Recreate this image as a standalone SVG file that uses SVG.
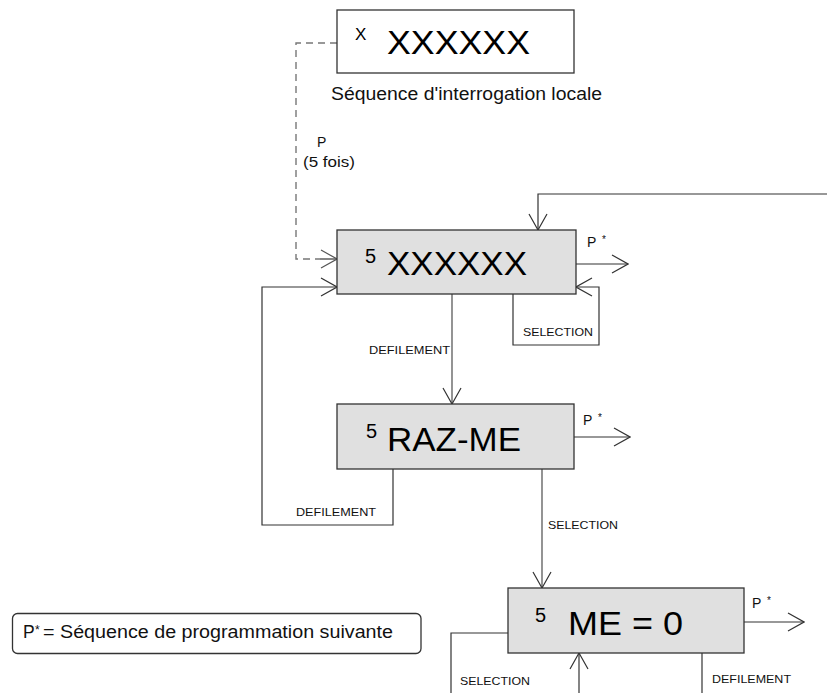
<svg xmlns="http://www.w3.org/2000/svg" width="833" height="693" viewBox="0 0 833 693">
<defs>
<style>
.box{fill:#e0e0e0;stroke:#333;stroke-width:1.3}
.wbox{fill:#fff;stroke:#333;stroke-width:1.3}
.ln{fill:none;stroke:#333;stroke-width:1.2}
.gl{fill:none;stroke:#666;stroke-width:1.4}
.dash{fill:none;stroke:#777;stroke-width:1.4;stroke-dasharray:7,5}
.big{font-family:"Liberation Sans",Arial,sans-serif;font-size:33px;fill:#000}
.sup{font-family:"Liberation Sans",Arial,sans-serif;font-size:20px;fill:#000}
.lbl{font-family:"Liberation Sans",Arial,sans-serif;font-size:11.5px;fill:#111}
.txt{font-family:"Liberation Sans",Arial,sans-serif;font-size:17.5px;fill:#111}
.ps{font-family:"Liberation Sans",Arial,sans-serif;font-size:14px;fill:#111}
.sx{font-family:"Liberation Sans",Arial,sans-serif;font-size:17px;fill:#000}
</style>
<marker id="ah" viewBox="0 0 18 20" refX="17" refY="10" markerWidth="18" markerHeight="20" markerUnits="userSpaceOnUse" orient="auto">
<path d="M1,1 L17,10 L1,19" fill="none" stroke="#333" stroke-width="1.2"/>
</marker>
<marker id="ahg" viewBox="0 0 18 20" refX="17" refY="10" markerWidth="18" markerHeight="20" markerUnits="userSpaceOnUse" orient="auto">
<path d="M1,1 L17,10 L1,19" fill="none" stroke="#555" stroke-width="1.2"/>
</marker>
</defs>

<g id="connectors">
<path class="dash" d="M337,43 H296 V259 H320"/>
<path class="ln" d="M320,259 H337" marker-end="url(#ahg)"/>
<path class="ln" d="M827,194 H538 V230" marker-end="url(#ah)"/>
<path class="ln" d="M576,264 H628" marker-end="url(#ah)"/>
<path class="ln" d="M513,294 V345 H599 V287 H576" marker-end="url(#ah)"/>
<path class="gl" d="M452,294 V404" marker-end="url(#ah)"/>
<path class="ln" d="M393,469 V525 H262 V287 H337" marker-end="url(#ah)"/>
<path class="ln" d="M574,437 H630" marker-end="url(#ah)"/>
<path class="gl" d="M542,469 V588" marker-end="url(#ah)"/>
<path class="ln" d="M744,622 H804" marker-end="url(#ah)"/>
<path class="ln" d="M508,633 H451 V693"/>
<path class="ln" d="M579,693 V653" marker-end="url(#ah)"/>
<path class="ln" d="M702,653 V693"/>
</g>

<g id="labels">
<text class="ps" x="317" y="147">P</text>
<text class="ps" x="303" y="167" textLength="52" lengthAdjust="spacingAndGlyphs">(5 fois)</text>
<text class="ps" x="587" y="247">P<tspan x="602" y="243" font-size="10">*</tspan></text>
<text class="ps" x="583" y="425">P<tspan x="598" y="421" font-size="10">*</tspan></text>
<text class="ps" x="752" y="608">P<tspan x="767" y="604" font-size="10">*</tspan></text>
<text class="lbl" x="523" y="336" textLength="70" lengthAdjust="spacingAndGlyphs">SELECTION</text>
<text class="lbl" x="369" y="354" textLength="81" lengthAdjust="spacingAndGlyphs">DEFILEMENT</text>
<text class="lbl" x="296" y="516" textLength="80" lengthAdjust="spacingAndGlyphs">DEFILEMENT</text>
<text class="lbl" x="548" y="529" textLength="70" lengthAdjust="spacingAndGlyphs">SELECTION</text>
<text class="lbl" x="460" y="685" textLength="70" lengthAdjust="spacingAndGlyphs">SELECTION</text>
<text class="lbl" x="712" y="683" textLength="79" lengthAdjust="spacingAndGlyphs">DEFILEMENT</text>
</g>

<g id="node-top">
<rect class="wbox" x="337" y="10" width="237" height="63"/>
<text class="sx" x="355" y="40">X</text>
<text class="big" x="387" y="54" textLength="143" lengthAdjust="spacingAndGlyphs">XXXXXX</text>
<text class="txt" x="331" y="100" textLength="271" lengthAdjust="spacingAndGlyphs">Séquence d'interrogation locale</text>
</g>

<g id="node-1">
<rect class="box" x="337" y="230" width="239" height="64"/>
<text class="sup" x="365" y="263">5</text>
<text class="big" x="387" y="275" textLength="140" lengthAdjust="spacingAndGlyphs">XXXXXX</text>
</g>

<g id="node-2">
<rect class="box" x="337" y="404" width="237" height="65"/>
<text class="sup" x="366" y="438">5</text>
<text class="big" x="387" y="451" textLength="134" lengthAdjust="spacingAndGlyphs">RAZ-ME</text>
</g>

<g id="node-3">
<rect class="box" x="508" y="588" width="236" height="65"/>
<text class="sup" x="535" y="622">5</text>
<text class="big" x="568" y="635" textLength="115" lengthAdjust="spacingAndGlyphs">ME = 0</text>
</g>

<g id="legend">
<rect class="wbox" x="12.5" y="613.5" width="408.5" height="40" rx="5"/>
<text class="txt" x="23" y="638">P<tspan x="35" y="634" font-size="12">*</tspan><tspan x="43" y="638" textLength="350" lengthAdjust="spacingAndGlyphs">= Séquence de programmation suivante</tspan></text>
</g>
</svg>
